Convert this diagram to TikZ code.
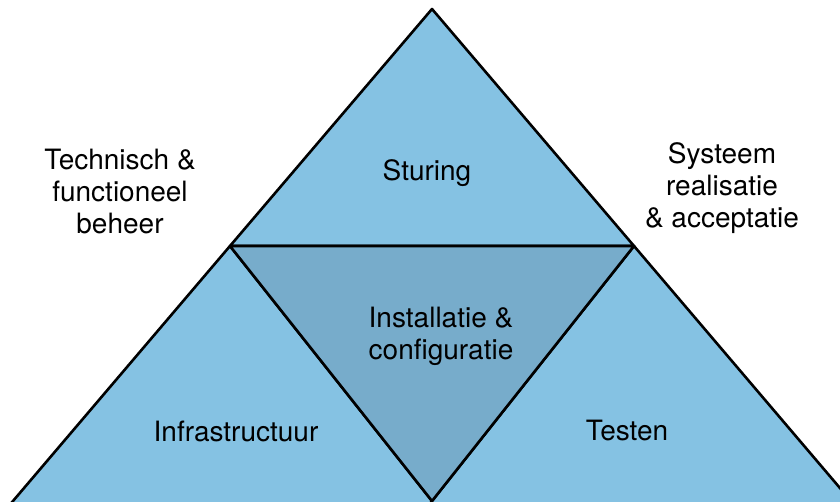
\documentclass[tikz,border=0pt]{standalone}
\usepackage{fontspec}
\setmainfont{TeX Gyre Heros}
\definecolor{lichtblauw}{RGB}{133,194,227}
\definecolor{donkerblauw}{RGB}{119,172,203}
\tikzset{
  vlak/.style = {draw = black, line width = 2.6pt, line join = round},
  label/.style = {align = center, font = \fontsize{28}{32}\selectfont}
}

\begin{document}
\begin{tikzpicture}[x = 1pt, y = 1pt]

    \useasboundingbox (0,0) rectangle (840,501);
    \clip (0,0) rectangle (840,501);

    \coordinate (top) at (432,492);
    \coordinate (ml) at (230,255);
    \coordinate (mr) at (634,255);
    \coordinate (bm) at (432,0);
    % onderste hoeken net buiten het beeld
    \coordinate (bl) at (4.5,-10);
    \coordinate (bml) at (439.9,-10);
    \coordinate (bmr) at (424.1,-10);
    \coordinate (br) at (859.5,-10);


    \draw[vlak, fill = lichtblauw] (top) -- (ml) -- (mr) -- cycle;
    \draw[vlak, fill = lichtblauw] (ml) -- (bl) -- (bml) -- cycle;
    \draw[vlak, fill = lichtblauw] (mr) -- (bmr) -- (br) -- cycle;
    \draw[vlak, fill = donkerblauw] (ml) -- (mr) -- (bm) -- cycle;


    \node[label] (sturing) at (427,328) {Sturing};
    \node[label] (installatie) at (441,165) {Installatie \&\\configuratie};
    \node[label] (infra) at (236,70) {Infrastructuur};
    \node[label] (testen) at (627,70) {Testen};

    \node[label] (beheer) at (120,309) {Technisch \&\\functioneel\\beheer};
    \node[label] (realisatie) at (722,313) {Systeem\\realisatie\\\& acceptatie};

\end{tikzpicture}
\end{document}
